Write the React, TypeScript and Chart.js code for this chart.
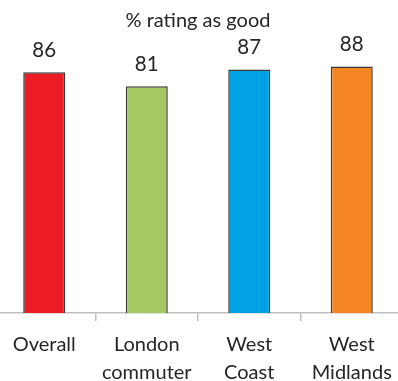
import React, { useEffect, useRef } from "react";
import { Chart, registerables } from "chart.js";

Chart.register(...registerables);

const categories: (string | string[])[] = [
  "Overall",
  ["London", "commuter"],
  ["West", "Coast"],
  ["West", "Midlands"],
];
const values: number[] = [86, 81, 87, 88];
const barColors: string[] = ["#ED1C24", "#A6C863", "#00A2E3", "#F58623"];
const titleText = "% rating as good";

const FONT = "Lato, 'Open Sans', sans-serif";
const TEXT = "#262626";

const valueLabels = {
  id: "valueLabels",
  afterDatasetsDraw(chart: any) {
    const ctx = chart.ctx;
    const meta = chart.getDatasetMeta(0);
    ctx.save();
    ctx.font = `20.5px ${FONT}`;
    ctx.fillStyle = TEXT;
    ctx.textAlign = "center";
    ctx.textBaseline = "middle";
    meta.data.forEach((bar: any, i: number) => {
      ctx.fillText(String(values[i]), bar.x, bar.y - 22);
    });
    ctx.restore();
  },
};

export default function App() {
  const ref = useRef<HTMLCanvasElement | null>(null);
  useEffect(() => {
    if (!ref.current) return;
    const chart = new Chart(ref.current, {
      type: "bar",
      data: {
        labels: categories,
        datasets: [
          {
            data: values,
            backgroundColor: barColors,
            borderColor: "#3a3a3a",
            borderWidth: 1.5,
            barPercentage: 0.41,
            categoryPercentage: 1,
          },
        ],
      },
      options: {
        responsive: false,
        animation: false,
        layout: { padding: { left: 0, right: 0, top: 0, bottom: 0 } },
        plugins: {
          legend: { display: false },
          tooltip: { enabled: false },
          title: {
            display: true,
            text: titleText,
            color: TEXT,
            font: { family: FONT, size: 20, weight: "normal", lineHeight: 1.2 },
            padding: { top: 9, bottom: 0 },
          },
        },
        scales: {
          y: { display: false, min: 0, max: 100 },
          x: {
            border: { display: true, color: "#bfbfbf", width: 1.5 },
            grid: {
              offset: true,
              drawOnChartArea: false,
              drawTicks: true,
              tickLength: 8,
              color: "#bfbfbf",
              lineWidth: 1.5,
            },
            ticks: {
              color: TEXT,
              padding: 10,
              maxRotation: 0,
              autoSkip: false,
              font: { family: FONT, size: 20, lineHeight: 1.4 },
            },
          },
        },
      },
      plugins: [valueLabels],
    });
    return () => chart.destroy();
  }, []);
  return (
    <div style={{ position: "fixed", left: 0, top: 0, width: 398, height: 381, overflow: "hidden", background: "#fff" }}>
      <canvas ref={ref} width={410} height={397} style={{ position: "absolute", left: -7, top: 0 }} />
    </div>
  );
}
